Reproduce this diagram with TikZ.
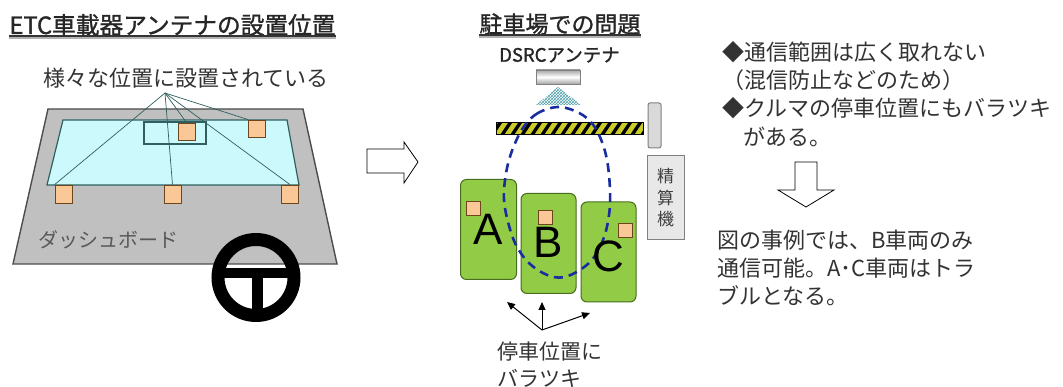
\documentclass[tikz,border=0pt]{standalone}
\usepackage{fontspec}
\setmainfont{Noto Sans CJK JP}
\newfontfamily\jpfont{Noto Sans CJK JP}
\newfontfamily\jpbold{Noto Sans CJK JP}[FakeBold=1.2]
\newfontfamily\carfont{Liberation Sans}
\usetikzlibrary{positioning, patterns, arrows.meta, calc}

\definecolor{boardgray}{RGB}{192,192,192}
\definecolor{glass}{RGB}{204,250,252}
\definecolor{glassline}{RGB}{47,95,95}
\definecolor{tagfill}{RGB}{250,200,150}
\definecolor{tagline}{RGB}{110,70,30}
\definecolor{carfill}{RGB}{146,204,70}
\definecolor{carline}{RGB}{70,110,30}
\definecolor{zoneblue}{RGB}{26,45,160}
\definecolor{baryellow}{RGB}{204,204,40}
\definecolor{textgray}{RGB}{51,51,51}
\definecolor{hatchteal}{RGB}{80,160,170}

\tikzset{
  tag/.style={rectangle, draw=tagline, fill=tagfill, line width=0.8pt,
    minimum width=17pt, minimum height=17pt, inner sep=0pt},
  smalltag/.style={tag, minimum width=14pt, minimum height=14pt},
  car/.style={rectangle, draw=carline, fill=carfill, rounded corners=6pt,
    line width=1pt, minimum width=56pt, minimum height=100pt, inner sep=0pt},
  carlabel/.style={font={\carfont\fontsize{44}{44}\selectfont}, inner sep=0pt},
  feed/.style={draw=glassline, line width=0.7pt},
  hollow/.style={draw=black, fill=white, line width=0.8pt},
  note/.style={font={\jpfont\fontsize{22}{28}\selectfont}, text=textgray,
    inner sep=0pt, anchor=west},
  heading/.style={font={\jpbold\fontsize{23}{23}\selectfont}, text=black!85,
    inner sep=0pt},
  underline/.style={line width=1.4pt, draw=black!80},
  zone/.style={draw=zoneblue, line width=2.6pt, dash pattern=on 9pt off 6pt},
  pointer/.style={-{Triangle[length=8pt,width=7pt]}, line width=1pt},
}

\begin{document}
\begin{tikzpicture}[x=1pt, y=-1pt]
  \useasboundingbox (0,0) rectangle (1063,387);
  \fill[white] (0,0) rectangle (1063,387);

  % Left panel: dashboard and windscreen
  \node[heading, font={\jpbold\fontsize{23.7}{23.7}\selectfont}] (ttlcar) at (172.5,25)
    {ETC車載器アンテナの設置位置};
  \draw[gray!60, line width=2pt] ([yshift=-2pt]ttlcar.south west) -- ([yshift=-2pt]ttlcar.south east);
  \draw[underline] (ttlcar.south west) -- (ttlcar.south east);

  \node[note, anchor=center] (spread) at (186,78) {様々な位置に設置されている};
  \coordinate (fan) at (165,93);

  \filldraw[fill=boardgray, draw=black!70, line width=1.4pt]
    (48,109) -- (303,109) -- (337,264) -- (13,264) -- cycle;
  \filldraw[fill=glass, draw=glassline, line width=1.2pt]
    (63,120) -- (287,120) -- (299,185) -- (47,185) -- cycle;
  \node[draw=glassline, line width=1.2pt, minimum width=62pt, minimum height=22pt,
    inner sep=0pt] (mirror) at (175,133) {};

  \node[tag] (tagmirror) at (186.5,131.5) {};
  \node[tag] (tagtop) at (257,128.5) {};
  \node[tag, minimum height=18pt] (tagleft) at (63.5,194) {};
  \node[tag, minimum height=18pt] (tagmid) at (172.5,194) {};
  \node[tag, minimum height=18pt] (tagright) at (290,194) {};

  \draw[feed] (fan) -- (tagleft.north west);
  \draw[feed] (fan) -- (tagmid.north);
  \draw[feed] (fan) -- (tagmirror.north);
  \draw[feed] (fan) -- (tagright.north);
  \draw[feed] (fan) -- (tagtop.north west);

  \node[note, font={\jpfont\fontsize{20}{20}\selectfont}, text=black!65]
    (board) at (38,240) {ダッシュボード};

  % steering wheel
  \draw[line width=13pt] (256,277.5) circle (38);
  \draw[line width=10pt] (218,273) -- (294,273);
  \draw[line width=11pt] (257.5,273) -- (257.5,312);

  \filldraw[hollow] (367,149) -- (404,149) -- (404,142) -- (418,162)
    -- (404,183) -- (404,173) -- (367,173) -- cycle;

  % Middle panel: parking gate
  \node[heading] (ttlpark) at (560,24) {駐車場での問題};
  \draw[gray!60, line width=2pt] ([yshift=-2pt]ttlpark.south west) -- ([yshift=-2pt]ttlpark.south east);
  \draw[underline] (ttlpark.south west) -- (ttlpark.south east);
  \node[heading, font={\jpbold\fontsize{18.5}{18.5}\selectfont}] (dsrc) at (559.5,55) {DSRCアンテナ};

  \shade[top color=gray!70, bottom color=gray!70, middle color=white] (536,70) rectangle (580,84);
  \draw[gray, line width=0.6pt] (536,70) rectangle (580,84);
  \fill[pattern=crosshatch, pattern color=hatchteal] (558,87) -- (536,105) -- (581,105) -- cycle;

  \fill[baryellow] (496,123) rectangle (643,135);
  \begin{scope}
    \clip (496,123) rectangle (643,135);
    \foreach \x in {480,490,...,650}
      \fill[black] (\x,135) -- (\x+4,135) -- (\x+12,123) -- (\x+8,123) -- cycle;
  \end{scope}
  \draw[black, line width=1pt] (496,123) rectangle (643,135);

  \filldraw[fill=gray!30, draw=gray, line width=1pt, rounded corners=2pt] (648,103) rectangle (661,148);
  \node[draw=gray, fill=gray!18, line width=1pt, minimum width=37pt, minimum height=84pt,
    inner sep=0pt, align=center, text=black!75,
    font={\jpfont\fontsize{17}{21.5}\selectfont}] (kiosk) at (665.5,198) {精\\算\\機};

  % cars
  \node[car] (carA) at (488.5,229.5) {};
  \node[car, minimum width=55pt] (carB) at (548.5,243.5) {};
  \node[car, minimum width=55pt] (carC) at (608.5,252) {};
  \node[smalltag] (tagA) at (473.5,208) {};
  \node[smalltag] (tagB) at (545,217.5) {};
  \node[smalltag] (tagC) at (625,230) {};

  \draw[zone] plot[smooth cycle, tension=0.6] coordinates {
    (557,107) (538,113) (525,125) (516,141) (509,160) (505,180) (504,200)
    (508,222) (516,245) (530,264) (550,276) (568,276) (590,262) (603,240)
    (609,215) (610,190) (607,160) (600,137) (590,121) (575,111)};

  \node[carlabel] (labA) at (carA.center) {A};
  \node[carlabel] (labB) at ([yshift=1pt]carB.center) {B};
  \node[carlabel] (labC) at ([yshift=-4pt]carC.center) {C};

  \coordinate (spot) at (542,330);
  \coordinate (toA) at (507,302);
  \coordinate (toB) at (542,302);
  \coordinate (toC) at (590,313);
  \draw[pointer] (spot) -- (toA);
  \draw[pointer] (spot) -- (toB);
  \draw[pointer] (spot) -- (toC);
  \node[note, font={\jpfont\fontsize{21}{21}\selectfont}] (stop1) at (497,352) {停車位置に};
  \node[note, font={\jpfont\fontsize{21}{21}\selectfont}] (stop2) at (497,378) {バラツキ};

  % Right panel: notes
  \node[note] (pt1) at (722,52) {◆通信範囲は広く取れない};
  \node[note] (pt1b) at (722,80) {（混信防止などのため）};
  \node[note] (pt2) at (722,108) {◆クルマの停車位置にもバラツキ};
  \node[note] (pt2b) at (743,137) {がある。};

  \filldraw[hollow] (795,162) -- (817,162) -- (817,190) -- (834,190) -- (806,207)
    -- (778,190) -- (795,190) -- cycle;

  \node[note] (res1) at (717,240) {図の事例では、B車両のみ};
  \node[note] (res2) at (717,268) {通信可能。A･C車両はトラ};
  \node[note] (res3) at (717,296) {ブルとなる。};
\end{tikzpicture}
\end{document}
